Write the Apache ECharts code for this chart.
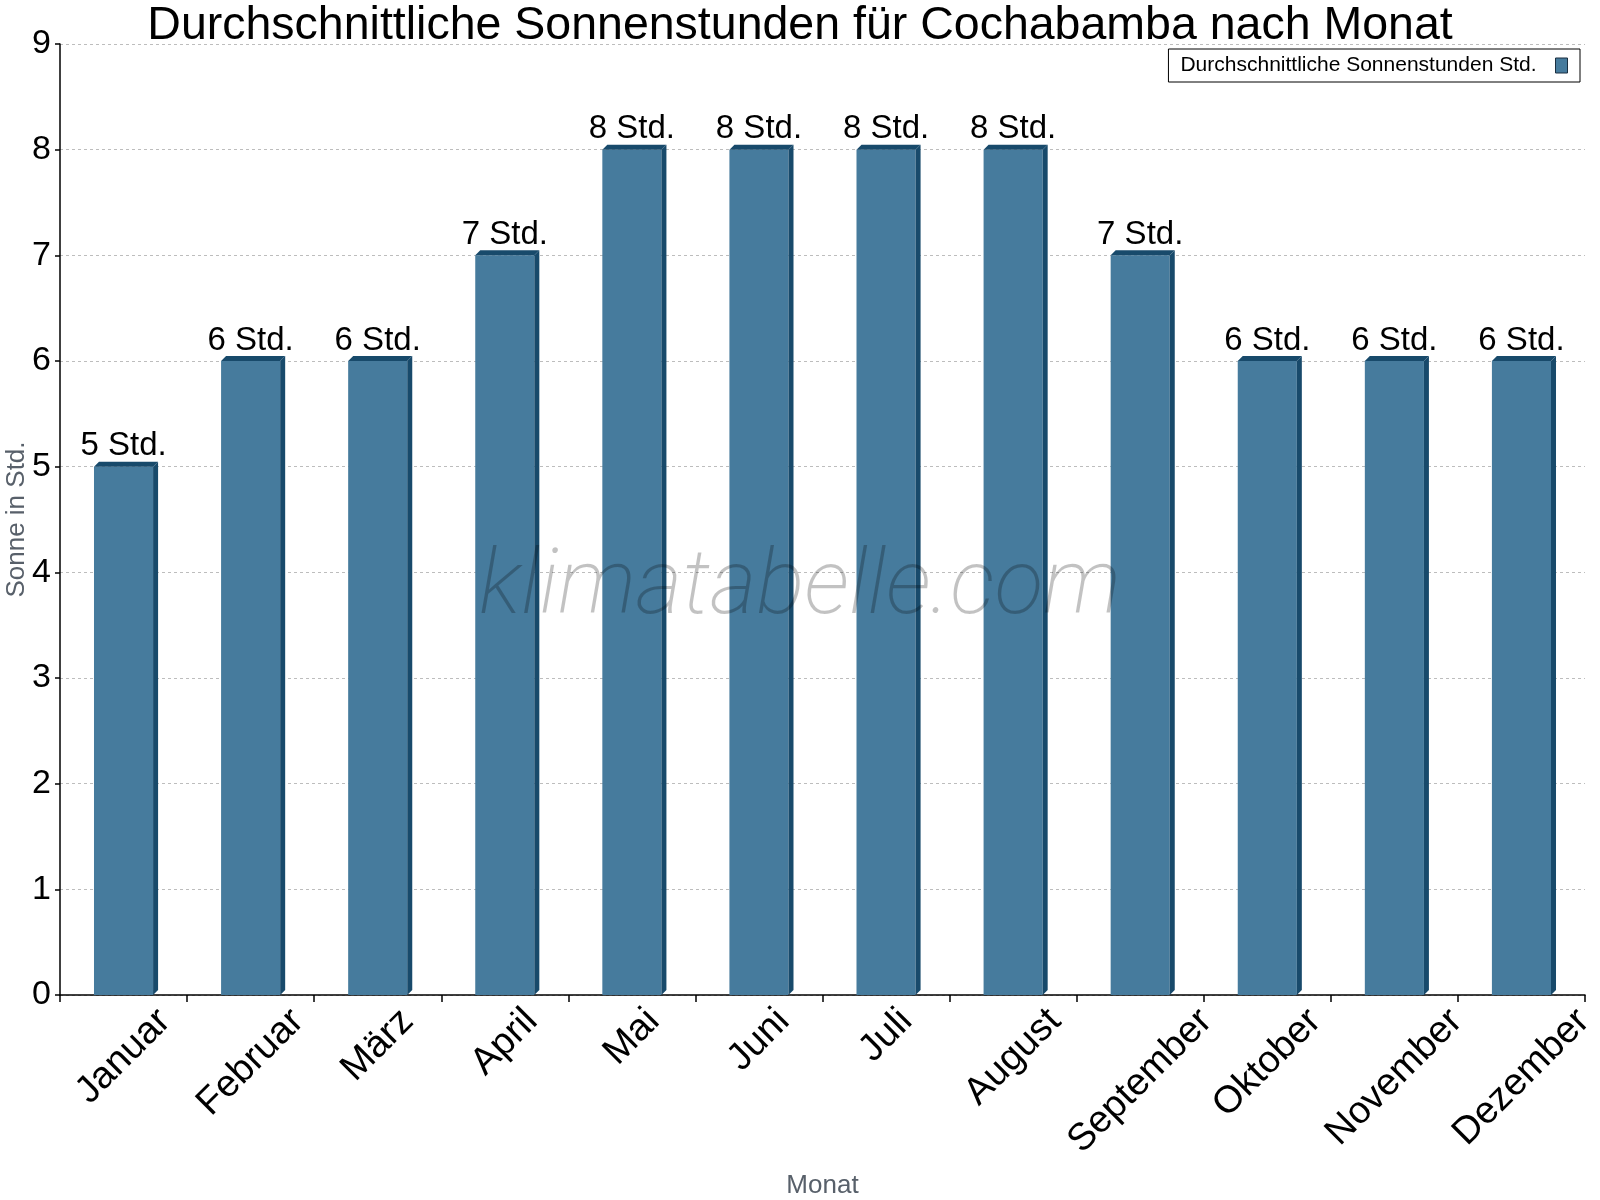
<!DOCTYPE html>
<html>
<head>
<meta charset="utf-8">
<script src="https://cdn.jsdelivr.net/npm/echarts@6/dist/echarts.min.js"></script>
<style>
	html, body{
		margin: 0;
		padding: 0;
		background: #fff;
	}
	#main{
		width: 1600px;
		height: 1200px;
	}
</style>
</head>
<body>
<div id="main"></div>
<script type="text/javascript">
// Monate und Sonnenstunden
var months = ['Januar','Februar','März','April','Mai','Juni','Juli','August','September','Oktober','November','Dezember'];
var sunHours = [5,6,6,7,8,8,8,8,7,6,6,6];
var yTicks = [0,1,2,3,4,5,6,7,8,9];

var frontColor = '#467b9d';
var sideColor = '#184a6b';
var depth = 5;
var fontName = 'Liberation Sans, Arial, sans-serif';
var monthFontSize = 38;
var monthFont = monthFontSize + 'px ' + fontName;

var myChart = echarts.init(document.getElementById('main'));

// Breite der Monatsnamen messen
var measureCtx = document.createElement('canvas').getContext('2d');
measureCtx.font = monthFont;

// Seiten- und Deckfläche für den 3D-Effekt
function renderDepth(params, api){
	var idx = api.value(0);
	var top = api.coord([idx, api.value(1)]);
	var bottom = api.coord([idx, 0]);
	var w = api.size([1, 0])[0] * 0.465;
	var x0 = top[0] - w / 2;
	var x1 = top[0] + w / 2;
	return {
		type: 'group',
		children: [
			{
				type: 'polygon',
				shape: {points: [[x1, top[1]], [x1 + depth, top[1] - depth], [x1 + depth, bottom[1] - depth], [x1, bottom[1]]]},
				style: {fill: sideColor}
			},
			{
				type: 'polygon',
				shape: {points: [[x0, top[1]], [x0 + depth, top[1] - depth], [x1 + depth, top[1] - depth], [x1, top[1]]]},
				style: {fill: sideColor}
			}
		]
	};
}

// Monatsnamen schräg, um die Mitte gedreht, oben bündig
function renderMonth(params, api){
	var idx = api.value(0);
	var p = api.coord([idx, 0]);
	var text = months[idx];
	var len = measureCtx.measureText(text).width;
	var ext = (len + monthFontSize * 0.85) * Math.SQRT1_2;
	return {
		type: 'text',
		x: p[0],
		y: p[1] + 9 + ext / 2,
		rotation: Math.PI / 4,
		style: {
			text: text,
			font: monthFont,
			fill: '#000',
			align: 'center',
			verticalAlign: 'middle'
		}
	};
}

var option = {
	animation: false,
	textStyle: {fontFamily: fontName},
	title: {
		text: 'Durchschnittliche Sonnenstunden für Cochabamba nach Monat',
		left: 'center',
		top: -2,
		textStyle: {fontSize: 46.5, fontWeight: 'normal', color: '#000'}
	},
	legend: {
		right: 20,
		top: 49,
		align: 'right',
		icon: 'rect',
		itemWidth: 12,
		itemHeight: 15,
		padding: [6, 12, 6, 12],
		borderColor: '#000',
		borderWidth: 1,
		borderRadius: 0,
		backgroundColor: '#fff',
		textStyle: {fontSize: 21, color: '#000', padding: [0, 14, 0, 0]},
		data: [{name: 'Durchschnittliche Sonnenstunden Std.', itemStyle: {color: frontColor, borderColor: '#1a2f40', borderWidth: 1}}]
	},
	grid: {left: 60, right: 15, top: 44, bottom: 205, containLabel: false, outerBoundsMode: 'none'},
	xAxis: {
		type: 'category',
		data: months,
		name: 'Monat',
		nameLocation: 'middle',
		nameGap: 178,
		nameMoveOverlap: false,
		nameTextStyle: {fontSize: 26, color: '#58606a'},
		axisLine: {lineStyle: {color: '#000', width: 1.5}},
		axisTick: {show: true, length: 7, lineStyle: {color: '#000', width: 1.5}},
		axisLabel: {show: false},
		splitLine: {show: false}
	},
	yAxis: {
		type: 'value',
		min: 0,
		max: 9,
		interval: 1,
		name: 'Sonne in Std.',
		nameLocation: 'middle',
		nameGap: 30,
		nameMoveOverlap: false,
		nameTextStyle: {fontSize: 26, color: '#58606a'},
		axisLine: {show: true, lineStyle: {color: '#000', width: 1.5}},
		axisTick: {show: true, length: 5, lineStyle: {color: '#000', width: 1.5}},
		axisLabel: {fontSize: 34, color: '#000', margin: 9},
		splitLine: {show: true, lineStyle: {color: '#bdbdbd', type: [3, 3]}}
	},
	graphic: [{
		type: 'text',
		left: 'center',
		top: 545,
		z: 100,
		silent: true,
		style: {
			text: 'klimatabelle.com',
			font: 'italic 200 90px Roboto, Lato, sans-serif',
			fill: 'rgba(0,0,0,0.24)'
		}
	}],
	series: [
		{
			name: 'Durchschnittliche Sonnenstunden Std.',
			type: 'bar',
			data: sunHours,
			barWidth: '46.5%',
			itemStyle: {color: frontColor},
			label: {
				show: true,
				position: 'top',
				distance: 4,
				fontSize: 33,
				color: '#000',
				formatter: function(p){ return p.value + ' Std.'; }
			},
			z: 2
		},
		{
			type: 'custom',
			renderItem: renderDepth,
			data: sunHours.map(function(v, i){ return [i, v]; }),
			z: 3,
			silent: true
		},
		{
			type: 'custom',
			renderItem: renderMonth,
			clip: false,
			data: months.map(function(m, i){ return [i, 0]; }),
			z: 4,
			silent: true
		}
	]
};

myChart.setOption(option);
</script>
</body>
</html>
